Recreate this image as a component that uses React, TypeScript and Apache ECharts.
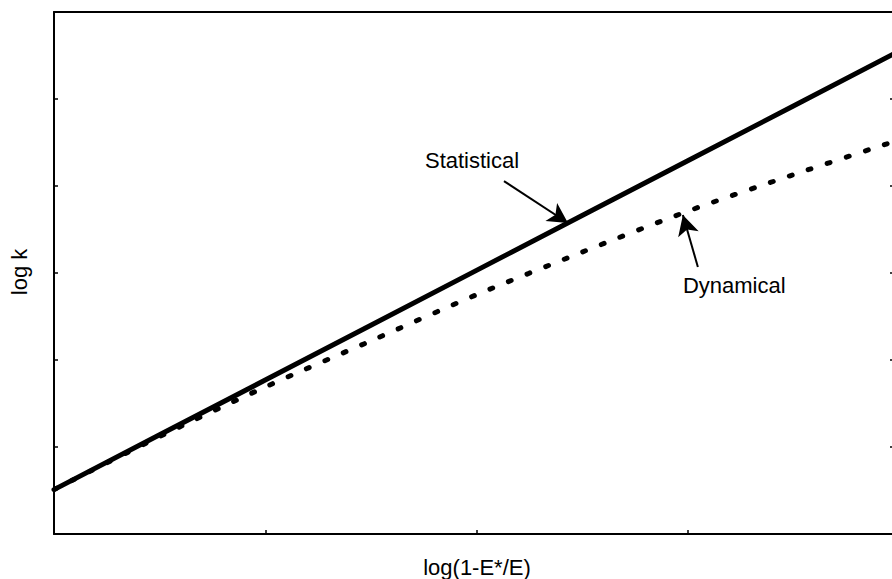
import React, { useEffect, useRef } from "react";
import * as echarts from "echarts";

const xValues = [0, 0.5, 1, 1.5, 2, 2.5, 3, 3.5, 4];
const statistical = [0.51, 1.14, 1.77, 2.4, 3.03, 3.66, 4.29, 4.92, 5.55];
const dynamical = [0.51, 1.12, 1.69, 2.22, 2.75, 3.24, 3.71, 4.13, 4.53];

const xTitle = "log(1-E*/E)";
const yTitle = "log k";

// annotations in data units: label anchor (left, middle) and arrow from -> to
const labels = [
  { text: "Statistical", at: [1.756, 4.293] },
  { text: "Dynamical", at: [2.977, 2.862] },
];
const arrows = [
  { from: [2.13, 4.057], to: [2.433, 3.575] },
  { from: [3.048, 3.069], to: [2.977, 3.667] },
];

const FONT = "'Liberation Sans', Arial, Helvetica, sans-serif";

export default function App() {
  const ref = useRef<HTMLDivElement>(null);
  useEffect(() => {
    if (!ref.current) return;
    const chart = echarts.init(ref.current, undefined, { renderer: "svg" });
    const axisLine = { show: true, onZero: false, lineStyle: { color: "#000", width: 2 } };
    const tick = (len: number) => ({
      show: true,
      inside: true,
      length: len,
      lineStyle: { color: "#000", width: 1.5 },
    });
    chart.setOption({
      animation: false,
      backgroundColor: "#fff",
      grid: {
        left: 54,
        top: 12,
        width: 845,
        height: 522,
        containLabel: false,
        outerBoundsMode: "none",
      },
      xAxis: [
        {
          type: "value",
          min: 0,
          max: 4,
          interval: 1,
          position: "bottom",
          axisLine,
          axisTick: tick(4),
          axisLabel: { show: false },
          splitLine: { show: false },
        },
        {
          type: "value",
          min: 0,
          max: 4,
          interval: 1,
          position: "top",
          axisLine,
          axisTick: { show: false },
          axisLabel: { show: false },
          splitLine: { show: false },
        },
      ],
      yAxis: [
        {
          type: "value",
          min: 0,
          max: 6,
          interval: 1,
          position: "left",
          axisLine,
          axisTick: tick(4),
          axisLabel: { show: false },
          splitLine: { show: false },
        },
        {
          type: "value",
          min: 0,
          max: 6,
          interval: 1,
          position: "right",
          axisLine,
          axisTick: tick(9),
          axisLabel: { show: false },
          splitLine: { show: false },
        },
      ],
      series: [
        {
          name: "Statistical",
          type: "line",
          data: xValues.map((x, i) => [x, statistical[i]]),
          showSymbol: false,
          lineStyle: { color: "#000", width: 5 },
          markLine: {
            silent: true,
            symbol: ["none", "arrow"],
            symbolSize: [16, 20],
            label: { show: false },
            lineStyle: { color: "#000", width: 2, type: "solid" },
            data: arrows.map((a) => [{ coord: a.from }, { coord: a.to }]),
          },
        },
        {
          name: "Dynamical",
          type: "line",
          data: xValues.map((x, i) => [x, dynamical[i]]),
          showSymbol: false,
          smooth: 0.3,
          lineStyle: { color: "#000", width: 5, type: [3, 17], cap: "round" },
        },
      ],
    });

    const texts: any[] = labels.map((l) => {
      const p = chart.convertToPixel({ gridIndex: 0 }, l.at) as number[];
      return {
        type: "text",
        x: p[0],
        y: p[1],
        style: { text: l.text, font: `22px ${FONT}`, fill: "#000", align: "left", verticalAlign: "middle" },
      };
    });
    texts.push({
      type: "text",
      x: 477,
      y: 567,
      style: { text: xTitle, font: `22px ${FONT}`, fill: "#000", align: "center", verticalAlign: "middle" },
    });
    texts.push({
      type: "text",
      x: 19,
      y: 272,
      rotation: Math.PI / 2,
      style: { text: yTitle, font: `22px ${FONT}`, fill: "#000", align: "center", verticalAlign: "middle" },
    });
    chart.setOption({ graphic: texts });
    return () => chart.dispose();
  }, []);
  return (
    <div
      ref={ref}
      style={{ position: "fixed", left: 0, top: 0, width: 892, height: 579, background: "#fff" }}
    />
  );
}
